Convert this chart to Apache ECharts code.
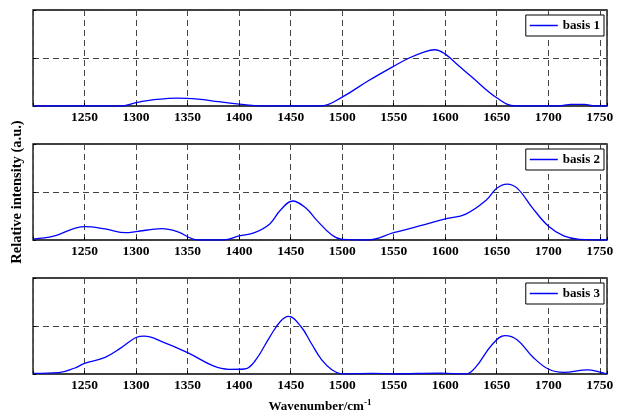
<!DOCTYPE html>
<html>
<head>
<meta charset="utf-8">
<script src="https://cdn.jsdelivr.net/npm/echarts@6/dist/echarts.min.js"></script>
<style>
  html, body { margin: 0; padding: 0; background: #fff; }
  #chart { width: 622px; height: 410px; }
</style>
</head>
<body>
<div id="chart"></div>
<script>
// wavenumber / intensity samples
const basis1X = [1200, 1285, 1300, 1320, 1340, 1360, 1380, 1400, 1422, 1479, 1500, 1525, 1550, 1565, 1580, 1590, 1600, 1612, 1625, 1650, 1668, 1710, 1722, 1735, 1745, 1757]
const basis1Y = [0, 0, 0.035, 0.068, 0.083, 0.072, 0.045, 0.02, 0, 0, 0.093, 0.26, 0.414, 0.5, 0.565, 0.586, 0.54, 0.43, 0.31, 0.086, 0, 0, 0.017, 0.017, 0, 0]

const basis2X = [1200, 1220, 1250, 1270, 1290, 1300, 1325, 1340, 1360, 1385, 1400, 1415, 1430, 1440, 1452, 1465, 1475, 1490, 1500, 1525, 1550, 1575, 1600, 1620, 1640, 1650, 1660, 1670, 1685, 1700, 1715, 1730, 1757]
const basis2Y = [0.01, 0.04, 0.139, 0.115, 0.076, 0.087, 0.118, 0.087, 0, 0, 0.042, 0.076, 0.17, 0.31, 0.406, 0.33, 0.21, 0.052, 0.007, 0, 0.076, 0.146, 0.219, 0.27, 0.417, 0.538, 0.583, 0.538, 0.33, 0.146, 0.042, 0.007, 0]

const basis3X = [1200, 1225, 1240, 1250, 1270, 1285, 1300, 1308, 1325, 1350, 1375, 1390, 1405, 1415, 1430, 1440, 1448, 1460, 1470, 1480, 1490, 1500, 1530, 1550, 1595, 1620, 1630, 1645, 1658, 1670, 1685, 1700, 1715, 1738, 1750, 1757]
const basis3Y = [0.007, 0.014, 0.06, 0.11, 0.174, 0.27, 0.38, 0.394, 0.338, 0.223, 0.084, 0.049, 0.052, 0.13, 0.39, 0.547, 0.6, 0.495, 0.32, 0.15, 0.045, 0, 0.007, 0, 0.01, 0, 0.077, 0.3, 0.4, 0.355, 0.178, 0.052, 0.017, 0.042, 0.02, 0]

const seriesNames = ['basis 1', 'basis 2', 'basis 3']
const seriesX = [basis1X, basis2X, basis3X]
const seriesY = [basis1Y, basis2Y, basis3Y]

const xMin = 1200
const xMax = 1757
const tickStep = 50

const font = 'Liberation Serif, Times New Roman, serif'
const gridTops = [10, 144, 278]
const gridHeight = 96

const chart = echarts.init(document.getElementById('chart'))

const grids = gridTops.map(t => ({
  left: 33, width: 574, top: t, height: gridHeight,
  outerBoundsMode: 'none', containLabel: false,
  show: true, borderColor: '#000', borderWidth: 1.3, backgroundColor: '#fff'
}))

const dashed = { show: true, lineStyle: { color: '#444', type: [6, 4], width: 1 } }

const xAxes = gridTops.map((t, i) => ({
  type: 'value', gridIndex: i, min: xMin, max: xMax, interval: tickStep,
  axisLine: { show: false },
  axisTick: { show: true, inside: true, length: 3, lineStyle: { color: '#000' } },
  splitLine: dashed,
  axisLabel: {
    margin: 5, color: '#000', fontFamily: font, fontWeight: 'bold', fontSize: 13.5,
    formatter: v => (v % tickStep === 0 && v !== xMin) ? String(v) : ''
  },
  name: i === 2 ? '{b|Wavenumber/cm}{s|-1}' : '',
  nameLocation: 'middle', nameGap: 24,
  nameTextStyle: {
    rich: {
      b: { fontFamily: font, fontWeight: 'bold', fontSize: 13, color: '#000' },
      s: { fontFamily: font, fontWeight: 'bold', fontSize: 9, color: '#000', verticalAlign: 'top', padding: [0, 0, 8, 0] }
    }
  }
}))

const yAxes = gridTops.map((t, i) => ({
  type: 'value', gridIndex: i, min: 0, max: 1, interval: 0.5,
  axisLine: { show: false },
  axisTick: { show: true, inside: true, length: 3, lineStyle: { color: '#000' } },
  axisLabel: { show: false },
  splitLine: dashed,
  name: i === 1 ? 'Relative intensity (a.u.)' : '',
  nameLocation: 'middle', nameGap: 8, nameRotate: 90,
  nameTextStyle: { fontFamily: font, fontWeight: 'bold', fontSize: 14.5, color: '#000' }
}))

const legends = gridTops.map((t, i) => ({
  data: [seriesNames[i]],
  right: 18, top: t + 5,
  orient: 'vertical',
  icon: 'rect',
  borderColor: '#000', borderWidth: 1, borderRadius: 0,
  backgroundColor: '#fff',
  padding: [4, 4, 4, 4],
  itemWidth: 28, itemHeight: 1.5, itemGap: 0,
  textStyle: { fontFamily: font, fontWeight: 'bold', fontSize: 13, color: '#000' }
}))

chart.setOption({
  animation: false,
  grid: grids,
  xAxis: xAxes,
  yAxis: yAxes,
  legend: legends,
  series: seriesNames.map((name, i) => ({
    name: name,
    type: 'line',
    xAxisIndex: i, yAxisIndex: i,
    symbol: 'none',
    smooth: 0.4,
    lineStyle: { color: '#0000ff', width: 1.3 },
    itemStyle: { color: '#0000ff' },
    data: seriesX[i].map((x, j) => [x, seriesY[i][j]])
  }))
})
</script>
</body>
</html>
